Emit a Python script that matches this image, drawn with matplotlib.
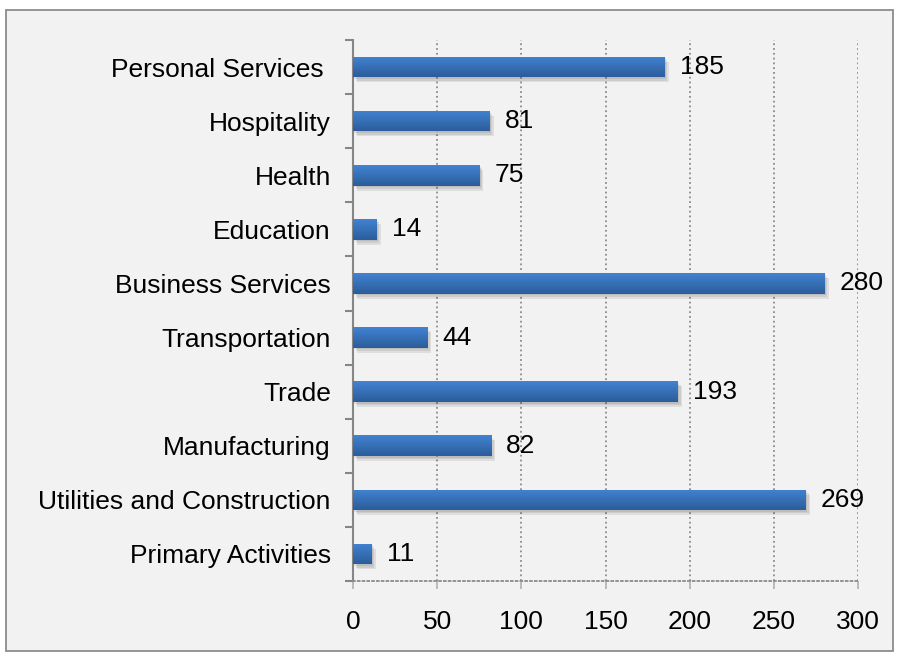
import numpy as np
import matplotlib
matplotlib.use('Agg')
import matplotlib.pyplot as plt
from matplotlib.patches import Rectangle
from matplotlib.colors import LinearSegmentedColormap
import matplotlib.patheffects as pe

plt.rcParams['font.family'] = ['Liberation Sans', 'DejaVu Sans']

# Данные (сверху вниз, как на картинке)
categories = ['Personal Services ', 'Hospitality', 'Health', 'Education',
              'Business Services', 'Transportation', 'Trade', 'Manufacturing',
              'Utilities and Construction', 'Primary Activities']
values = [185, 81, 75, 14, 280, 44, 193, 82, 269, 11]
x_ticks = [0, 50, 100, 150, 200, 250, 300]

fig = plt.figure(figsize=(8.99, 6.60), dpi=100)
fig.patch.set_facecolor('white')

# Рамка вокруг всего графика
fig.add_artist(Rectangle((6 / 899, 1 - 651 / 660), 887 / 899, 641 / 660,
                         transform=fig.transFigure, facecolor='#f2f2f2',
                         edgecolor='#8c8c8c', lw=1.3, zorder=0))

ax = fig.add_axes([353 / 899, 1 - 581 / 660, 505 / 899, 541 / 660])
ax.set_facecolor('none')

# Мягкая тень: несколько слоёв с малой прозрачностью
shadow = [pe.SimplePatchShadow(offset=(o, -o * 1.2), alpha=0.10,
                               shadow_rgbFace='#303030') for o in (1, 2, 3)]

y = np.arange(len(categories))
bars = ax.barh(y, values, height=0.38, color='#3a73ba', zorder=2,
               path_effects=shadow + [pe.Normal()])

# Градиент на столбцах
cmap = LinearSegmentedColormap.from_list('bar', ['#4283d2', '#3670b6', '#2c5c9b'])
grad = np.linspace(0, 1, 64).reshape(-1, 1)
for b in bars:
    x0, y0 = b.get_x(), b.get_y()
    w, h = b.get_width(), b.get_height()
    im = ax.imshow(grad, extent=(x0, x0 + w, y0 + h, y0), aspect='auto',
                   cmap=cmap, zorder=3, interpolation='bilinear')
    im.set_clip_path(b)

ax.bar_label(bars, labels=[str(v) for v in values], padding=11, fontsize=19)

ax.set_xlim(0, 300)
ax.set_ylim(len(categories) - 0.5, -0.5)
ax.set_xticks(x_ticks)
ax.set_xticklabels([str(t) for t in x_ticks])
ax.set_yticks(y)
ax.set_yticklabels(categories)
ax.set_yticks(np.arange(-0.5, len(categories)), minor=True)

ax.xaxis.grid(True, linestyle=':', color='#8c8c8c', lw=1.3, zorder=1)
ax.set_axisbelow(True)

for s in ['top', 'right']:
    ax.spines[s].set_visible(False)
ax.spines['left'].set_color('#868686')
ax.spines['left'].set_linewidth(1.5)
ax.spines['bottom'].set_color('#8c8c8c')
ax.spines['bottom'].set_linestyle(':')
ax.spines['bottom'].set_linewidth(1.3)

ax.tick_params(axis='y', which='major', length=0, pad=16, labelsize=19)
ax.tick_params(axis='y', which='minor', length=6, width=1.5, color='#868686')
ax.tick_params(axis='x', length=6, width=1.2, color='#b0b0b0', pad=15, labelsize=19)

fig.savefig('out.png', dpi=100)
